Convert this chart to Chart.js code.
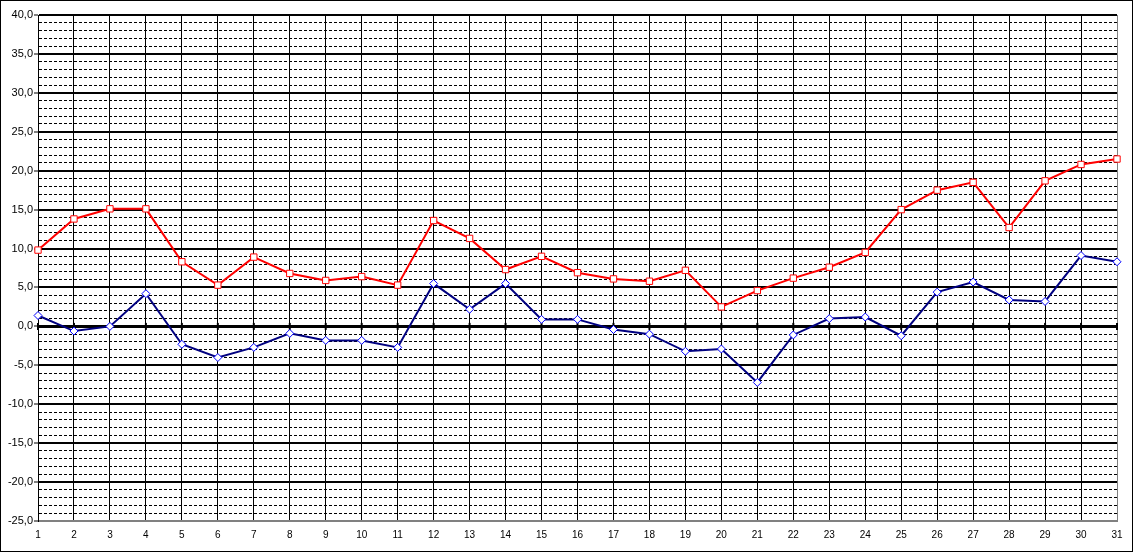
<!DOCTYPE html>
<html>
<head>
<meta charset="utf-8">
<script src="https://cdn.jsdelivr.net/npm/chart.js@4.4.0/dist/chart.umd.min.js"></script>
<style>
    html, body { margin: 0; padding: 0; background: #fff; }
    #cadre { width: 1133px; height: 552px; box-sizing: border-box; border: 1px solid #000; }
    canvas { display: block; }
</style>
</head>
<body>
<div id="cadre"><canvas id="graphique" width="1131" height="550"></canvas></div>
<script>
// Jours du mois
const jours = [1, 2, 3, 4, 5, 6, 7, 8, 9, 10, 11, 12, 13, 14, 15, 16, 17, 18, 19, 20,
    21, 22, 23, 24, 25, 26, 27, 28, 29, 30, 31];
// Températures maximales (rouge)
const maxi = [9.8, 13.8, 15.1, 15.1, 8.3, 5.3, 8.9, 6.8, 5.9, 6.4,
    5.3, 13.6, 11.3, 7.3, 9.0, 6.9, 6.1, 5.8, 7.2, 2.5,
    4.6, 6.2, 7.6, 9.5, 15.0, 17.5, 18.5, 12.7, 18.7, 20.8, 21.5];
// Températures minimales (bleu)
const mini = [1.4, -0.6, 0.0, 4.2, -2.3, -4.0, -2.7, -0.9, -1.8, -1.8,
    -2.7, 5.5, 2.2, 5.5, 0.9, 0.9, -0.4, -1.0, -3.2, -2.9,
    -7.2, -1.1, 1.0, 1.2, -1.2, 4.4, 5.7, 3.4, 3.2, 9.1, 8.3];
// Axe du zéro
const zero = [0, 0, 0, 0, 0, 0, 0, 0, 0, 0, 0, 0, 0, 0, 0, 0, 0, 0, 0, 0,
    0, 0, 0, 0, 0, 0, 0, 0, 0, 0, 0];
// Bornes de l'axe vertical
const yMin = -25;
const yMax = 40;

const police = "'Liberation Sans', Arial, sans-serif";
const estMajeur = v => v % 5 === 0;

const config = {
    type: "line",
    data: {
        labels: jours,
        datasets: [
            {
                label: "Maxi",
                data: maxi,
                borderColor: "#ff0000",
                borderWidth: 2,
                pointStyle: "rect",
                pointRadius: 4.5,
                pointBackgroundColor: "#ffffff",
                pointBorderColor: "#ff0000",
                pointBorderWidth: 1,
                tension: 0,
                clip: false,
            },
            {
                label: "Mini",
                data: mini,
                borderColor: "#000080",
                borderWidth: 2,
                pointStyle: "rectRot",
                pointRadius: 4,
                pointBackgroundColor: "#ffffff",
                pointBorderColor: "#0000ff",
                pointBorderWidth: 1,
                tension: 0,
                clip: false,
            },
            {
                label: "Zero",
                data: zero,
                borderColor: "#000000",
                borderWidth: 3,
                pointStyle: "line",
                pointRotation: 90,
                pointRadius: 3.5,
                pointBorderColor: "#000000",
                pointBorderWidth: 2,
                clip: false,
            },
        ],
    },
    options: {
        responsive: false,
        animation: false,
        layout: { padding: { top: 14, right: 15, left: 0, bottom: 0 } },
        plugins: { legend: { display: false }, tooltip: { enabled: false } },
        scales: {
            x: {
                type: "category",
                offset: false,
                afterFit: scale => { scale.height = 30; },
                grid: {
                    color: ctx => (ctx.index === jours.length - 1 ? "#808080" : "#000000"),
                    lineWidth: 1,
                    drawTicks: false,
                },
                border: { color: "#808080", width: 1 },
                ticks: {
                    color: "#000000",
                    font: { family: police, size: 10 },
                    padding: 8,
                    maxRotation: 0,
                    autoSkip: false,
                },
            },
            y: {
                type: "linear",
                min: yMin,
                max: yMax,
                afterFit: scale => { scale.width = 37; },
                grid: {
                    color: ctx => (ctx.tick && ctx.tick.value === yMin ? "#808080" : "#000000"),
                    lineWidth: ctx => (ctx.tick && estMajeur(ctx.tick.value) ? 2 : 1),
                    tickColor: ctx => (ctx.tick && estMajeur(ctx.tick.value) ? "#000000" : "rgba(0,0,0,0)"),
                    tickWidth: 1,
                    tickLength: 4,
                },
                border: {
                    color: "#000000",
                    width: 1,
                    dash: ctx => (ctx.tick && !estMajeur(ctx.tick.value) ? [3, 2] : []),
                },
                ticks: {
                    stepSize: 1,
                    autoSkip: false,
                    padding: 1,
                    color: "#000000",
                    font: { family: police, size: 11 },
                    callback: v => (estMajeur(v) ? v.toFixed(1).replace(".", ",") : ""),
                },
            },
        },
    },
};

new Chart(document.querySelector("#graphique"), config);
</script>
</body>
</html>
